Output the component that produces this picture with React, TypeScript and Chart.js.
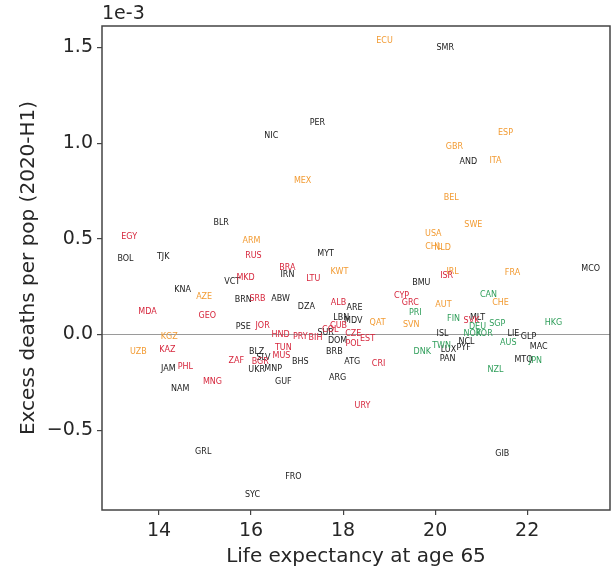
import React, { useEffect, useRef } from "react";
import { Chart, registerables } from "chart.js";

Chart.register(...registerables);

// Life expectancy at age 65 (x) and excess deaths per pop in units of 1e-3 (y)
const blackCodes = ["NIC","PER","SMR","AND","BLR","BOL","TJK","VCT","KNA","BRN","ABW","PSE","MYT","IRN","BMU","DZA","ARE","LBN","MDV","SUR","DOM","BRB","ATG","ARG","GUF","BLZ","SLV","BHS","UKR","MNP","JAM","NAM","GRL","FRO","SYC","MCO","MLT","ISL","LIE","GLP","MAC","NCL","LUX","PYF","PAN","MTQ","GIB"];
const blackLifeExp = [16.44,17.44,20.22,20.72,15.35,13.27,14.09,15.59,14.51,15.83,16.64,15.83,17.62,16.79,19.70,17.20,18.25,17.96,18.22,17.62,17.88,17.81,18.20,17.88,16.70,16.12,16.27,17.07,16.12,16.48,14.20,14.46,14.96,16.92,16.03,23.38,20.92,20.16,21.70,22.03,22.25,20.68,20.29,20.62,20.27,21.92,21.46];
const blackExcess = [1.038,1.106,1.498,0.902,0.583,0.395,0.405,0.274,0.233,0.180,0.186,0.039,0.421,0.311,0.269,0.144,0.139,0.086,0.071,0.008,-0.034,-0.091,-0.144,-0.227,-0.248,-0.091,-0.123,-0.144,-0.186,-0.180,-0.180,-0.285,-0.614,-0.745,-0.839,0.342,0.086,0.003,0.003,-0.013,-0.065,-0.039,-0.081,-0.071,-0.128,-0.133,-0.625];

const orangeCodes = ["ECU","ESP","GBR","ITA","BEL","MEX","SWE","USA","CHL","NLD","IRL","FRA","CHE","AUT","SVN","QAT","KWT","ARM","AZE","KGZ","UZB"];
const orangeLifeExp = [18.90,21.53,20.42,21.31,20.35,17.12,20.83,19.96,19.96,20.16,20.38,21.68,21.42,20.18,19.48,18.75,17.92,16.01,14.98,14.22,13.55];
const orangeExcess = [1.534,1.053,0.980,0.907,0.714,0.802,0.572,0.525,0.457,0.452,0.327,0.321,0.165,0.154,0.050,0.060,0.327,0.489,0.196,-0.013,-0.091];

const redCodes = ["EGY","RUS","MKD","SRB","MDA","GEO","JOR","BRA","LTU","ALB","CYP","GRC","CUB","COL","HND","PRY","BIH","CZE","EST","POL","CRI","URY","KAZ","PHL","MNG","ZAF","BGR","TUN","MUS","ISR","SVK"];
const redLifeExp = [13.35,16.05,15.88,16.14,13.75,15.05,16.25,16.79,17.35,17.90,19.27,19.46,17.90,17.72,16.64,17.07,17.40,18.22,18.53,18.22,18.77,18.42,14.18,14.57,15.16,15.68,16.20,16.70,16.66,20.25,20.79];
const redExcess = [0.510,0.410,0.295,0.186,0.118,0.097,0.044,0.348,0.290,0.165,0.201,0.165,0.044,0.024,-0.003,-0.013,-0.018,0.003,-0.024,-0.050,-0.154,-0.374,-0.081,-0.170,-0.248,-0.139,-0.144,-0.071,-0.112,0.306,0.071];

const greenCodes = ["CAN","PRI","FIN","SGP","HKG","DEU","NOR","KOR","AUS","TWN","DNK","JPN","NZL"];
const greenLifeExp = [21.16,19.57,20.40,21.35,22.57,20.92,20.81,21.07,21.59,20.14,19.72,22.18,21.31];
const greenExcess = [0.206,0.112,0.081,0.055,0.060,0.039,0.003,0.003,-0.044,-0.060,-0.091,-0.139,-0.186];

const xTickValues = [14, 16, 18, 20, 22];
const yTickValues = [-0.5, 0.0, 0.5, 1.0, 1.5];

const FONT = "'DejaVu Sans', sans-serif";

function makeSet(codes: string[], xs: number[], ys: number[], color: string) {
  return {
    label: color,
    data: codes.map((c, i) => ({ x: xs[i], y: ys[i], code: c })),
    pointRadius: 0,
    pointHoverRadius: 0,
    borderColor: color,
    backgroundColor: color,
  };
}

const labelPlugin = {
  id: "codeLabels",
  beforeDatasetsDraw(chart: any) {
    const { ctx, chartArea, scales } = chart;
    const y0 = scales.y.getPixelForValue(0);
    ctx.save();
    ctx.strokeStyle = "#9a9a9a";
    ctx.lineWidth = 1.2;
    ctx.beginPath();
    ctx.moveTo(chartArea.left, y0);
    ctx.lineTo(chartArea.right, y0);
    ctx.stroke();
    ctx.restore();
  },
  afterDatasetsDraw(chart: any) {
    const { ctx, chartArea } = chart;
    ctx.save();
    ctx.beginPath();
    ctx.rect(chartArea.left, chartArea.top, chartArea.right - chartArea.left, chartArea.bottom - chartArea.top);
    ctx.clip();
    ctx.font = "8px " + FONT;
    ctx.textAlign = "center";
    ctx.textBaseline = "middle";
    chart.data.datasets.forEach((ds: any, di: number) => {
      const meta = chart.getDatasetMeta(di);
      ctx.fillStyle = ds.borderColor;
      meta.data.forEach((el: any, i: number) => {
        ctx.fillText(ds.data[i].code, el.x, el.y);
      });
    });
    ctx.restore();
  },
  afterDraw(chart: any) {
    const { ctx, chartArea } = chart;
    ctx.save();
    ctx.strokeStyle = "#444";
    ctx.lineWidth = 1.5;
    ctx.strokeRect(chartArea.left, chartArea.top, chartArea.right - chartArea.left, chartArea.bottom - chartArea.top);
    ctx.fillStyle = "#262626";
    ctx.font = "19px " + FONT;
    ctx.textAlign = "left";
    ctx.textBaseline = "bottom";
    ctx.fillText("1e-3", chartArea.left, chartArea.top - 2);
    ctx.restore();
  },
};

export default function App() {
  const ref = useRef<HTMLCanvasElement>(null);
  useEffect(() => {
    if (!ref.current) return;
    const chart = new Chart(ref.current, {
      type: "scatter",
      data: {
        datasets: [
          makeSet(blackCodes, blackLifeExp, blackExcess, "#1a1a1a"),
          makeSet(orangeCodes, orangeLifeExp, orangeExcess, "#f29b33"),
          makeSet(redCodes, redLifeExp, redExcess, "#d6263c"),
          makeSet(greenCodes, greenLifeExp, greenExcess, "#2f9e5a"),
        ],
      } as any,
      options: {
        responsive: false,
        animation: false,
        layout: { padding: { top: 26, right: 2, left: 0, bottom: 0 } },
        plugins: { legend: { display: false }, tooltip: { enabled: false } },
        scales: {
          x: {
            type: "linear",
            min: 12.76,
            max: 23.8,
            afterBuildTicks: (s: any) => { s.ticks = xTickValues.map((v) => ({ value: v })); },
            afterFit: (s: any) => { s.height = 65; },
            grid: { display: true, drawOnChartArea: false, drawTicks: true, tickLength: 5, color: "#444", lineWidth: 1.2 },
            border: { display: false },
            ticks: { font: { family: FONT, size: 19 }, color: "#262626", padding: 5, maxRotation: 0, callback: (v: any) => String(v) },
            title: { display: true, text: "Life expectancy at age 65", font: { family: FONT, size: 20 }, color: "#262626", padding: { top: 0, bottom: 6 } },
          },
          y: {
            type: "linear",
            min: -0.917,
            max: 1.612,
            afterBuildTicks: (s: any) => { s.ticks = yTickValues.map((v) => ({ value: v })); },
            afterFit: (s: any) => { s.width = 102; },
            grid: { display: true, drawOnChartArea: false, drawTicks: true, tickLength: 5, color: "#444", lineWidth: 1.2 },
            border: { display: false },
            ticks: { font: { family: FONT, size: 19 }, color: "#262626", padding: 4, callback: (v: any) => Number(v).toFixed(1).replace("-", "\u2212") },
            title: { display: true, text: "Excess deaths per pop (2020-H1)", font: { family: FONT, size: 20 }, color: "#262626", padding: { top: 17, bottom: 0 } },
          },
        },
      } as any,
      plugins: [labelPlugin],
    });
    return () => chart.destroy();
  }, []);
  return (
    <div style={{ position: "absolute", left: 0, top: 0, width: 612, height: 575, background: "#fff" }}>
      <canvas ref={ref} width={612} height={575} />
    </div>
  );
}
